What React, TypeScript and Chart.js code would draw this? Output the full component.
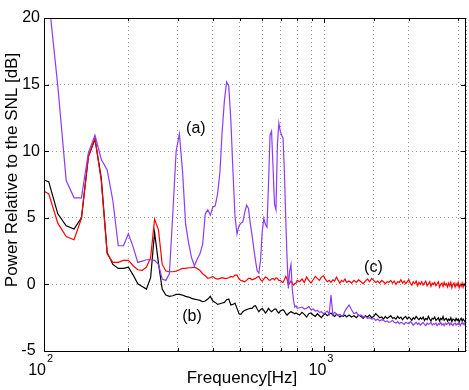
import React, { useEffect, useRef } from 'react';
import { Chart, registerables } from 'chart.js';

Chart.register(...registerables);

const FONT = '"Liberation Sans", Arial, Helvetica, sans-serif';

// Frequency grid [Hz]
const freqs = [
  96, 104, 112, 120, 128, 136, 144, 152, 160, 168, 176, 184, 192, 200, 208, 216, 224, 232, 240, 248, 256, 264, 272, 280, 288, 296, 304,
  312, 320, 328, 336, 344, 352, 360, 368, 376, 384, 392, 400, 408, 416, 424, 432, 440, 448, 456, 464,
  472, 480, 488, 496, 504, 512, 520, 528, 536, 544, 552, 560, 568, 576, 584, 592, 600, 608, 616, 624,
  632, 640, 648, 656, 664, 672, 680, 688, 696, 704, 712, 720, 728, 736, 744, 752, 760, 768, 776, 784, 792, 800,
  816, 832, 848, 864, 880, 896, 912, 928, 944, 960, 976, 992, 1008, 1024, 1040, 1056, 1072, 1088, 1104, 1120, 1136, 1152, 1168, 1184, 1200,
  1225, 1250, 1275, 1300, 1325, 1350, 1375, 1400, 1425, 1450,
  1475, 1500, 1525, 1550, 1575, 1600, 1625, 1650, 1675, 1700,
  1725, 1750, 1775, 1800, 1825, 1850, 1875, 1900, 1925, 1950,
  1975, 2000, 2025, 2050, 2075, 2100, 2125, 2150, 2175, 2200,
  2225, 2250, 2275, 2300, 2325, 2350, 2375, 2400, 2425, 2450,
  2475, 2500, 2525, 2550, 2575, 2600, 2625, 2650, 2675, 2700,
  2725, 2750, 2775, 2800, 2825, 2850, 2875, 2900, 2925, 2950,
  2975, 3000, 3025, 3050, 3075, 3100, 3125, 3150, 3175, 3200,
];

// (a) purple
const seriesA = [
  26, 21.4, 14.9, 7.8, 6.5, 6.5, 9.9, 11.2, 9.4, 8.6, 6.3, 2.9, 2.9, 3.8, 2.8, 1.65, 1.75, 1.85, 1.85, 1.8, 1.5, 0.4, 0.3, 0.8, 5.3, 10.0, 11.3,
  8.5, 4.5, 3.1, 2.0, 1.4, 1.9, 2.3, 3.0, 5.3, 5.6, 5.2, 5.8, 5.9, 6.8, 8.4, 11.5, 13.8, 15.2, 14.9, 12.3,
  8.5, 5.1, 3.8, 4.4, 4.6, 4.7, 5.4, 5.95, 5.7, 4.6, 3.7, 2.7, 1.8, 1.0, 0.85, 1.8, 3.9, 4.95, 4.5, 4.3,
  7.5, 11.2, 11.5, 8.8, 6.0, 5.6, 10.5, 12.1, 11.5, 11.2, 11.0, 8.5, 5.0, 2.0, -0.3, 1.0, 1.5, -0.3, -1.2, -1.7, -1.6, -1.8,
  -1.75, -1.7, -1.85, -1.8, -1.65, -1.9, -1.85, -2.0, -1.95, -2.1, -2.05, -2.2, -2.1, -2.0, -2.25, -0.8, -2.3, -2.1, -2.2, -2.35, -2.25, -2.4, -2.3, -2.0, -1.8,
  -1.55, -1.9, -2.2, -2.1, -2.35, -2.3, -2.45, -2.4, -2.55, -2.5,
  -2.6, -2.55, -2.7, -2.6, -2.75, -2.65, -2.7, -2.8, -2.75, -2.85,
  -2.8, -2.7, -2.85, -2.9, -2.8, -2.95, -2.85, -2.9, -3.0, -2.85,
  -2.9, -2.95, -2.8, -2.9, -3.05, -2.95, -2.85, -3.0, -2.9, -3.05,
  -2.95, -2.85, -3.0, -3.1, -2.9, -3.0, -2.95, -2.85, -3.05, -2.95,
  -3.0, -2.9, -3.1, -2.95, -3.0, -2.85, -3.05, -2.95, -3.1, -2.9,
  -3.0, -2.95, -2.85, -3.05, -2.9, -3.0, -3.1, -2.95, -2.9, -3.05,
  -2.95, -3.0, -2.9, -3.1, -2.95, -2.85, -3.0, -2.9, -3.05, -2.95,
];

// (b) black
const seriesB = [
  8.0, 7.7, 5.3, 4.4, 4.15, 5.0, 9.6, 10.9, 8.0, 2.4, 1.5, 1.2, 1.2, 1.3, 0.7, 0.05, -0.15, -0.35, 0.5, 3.9, 1.6, -0.35, -0.8, -0.9, -0.85, -0.75, -0.75,
  -0.8, -0.9, -0.95, -1.05, -1.1, -1.15, -1.2, -1.3, -1.25, -1.1, -0.9, -1.25, -1.35, -1.5, -1.45, -1.4, -1.35, -1.15, -1.1, -1.55,
  -1.5, -1.4, -1.8, -2.2, -2.25, -2.05, -1.95, -1.9, -1.85, -1.8, -1.8, -1.65, -1.6, -1.85, -2.05, -1.9, -1.8, -1.95, -2.15, -2.0,
  -1.8, -1.95, -2.05, -1.95, -1.85, -1.85, -2.05, -2.15, -2.0, -1.95, -1.9, -2.0, -2.2, -2.3, -2.2, -2.1, -2.05, -2.1, -2.15, -2.2, -2.15, -2.2,
  -2.3, -2.1, -2.25, -2.45, -2.2, -2.15, -2.3, -2.4, -2.2, -2.35, -2.5, -2.3, -2.2, -2.35, -2.25, -2.15, -2.3, -2.4, -2.25, -2.3, -2.45, -2.35, -2.4, -2.3, -2.45,
  -2.3, -2.45, -2.35, -2.5, -2.3, -2.4, -2.55, -2.35, -2.45, -2.3,
  -2.5, -2.4, -2.2, -2.35, -2.5, -2.45, -2.6, -2.4, -2.55, -2.45,
  -2.35, -2.55, -2.5, -2.6, -2.4, -2.55, -2.45, -2.65, -2.5, -2.4,
  -2.6, -2.45, -2.55, -2.7, -2.5, -2.6, -2.4, -2.55, -2.65, -2.5,
  -2.6, -2.45, -2.7, -2.55, -2.65, -2.4, -2.6, -2.75, -2.55, -2.6,
  -2.45, -2.7, -2.6, -2.5, -2.75, -2.55, -2.65, -2.4, -2.7, -2.6,
  -2.55, -2.75, -2.6, -2.7, -2.5, -2.8, -2.6, -2.65, -2.75, -2.55,
  -2.7, -2.6, -2.8, -2.65, -2.55, -2.75, -2.6, -2.7, -2.8, -2.65,
];

// (c) red
const seriesC = [
  7.2, 6.8, 4.6, 3.6, 3.35, 4.95, 9.6, 11.0, 7.8, 2.3, 1.65, 1.65, 1.8, 1.8, 1.4, 1.1, 1.05, 1.3, 2.0, 4.9, 4.1, 1.5, 1.0, 0.95, 0.95, 1.0, 1.1,
  1.2, 1.2, 1.25, 1.25, 1.3, 1.2, 1.05, 0.8, 0.65, 0.45, 0.5, 0.6, 0.45, 0.4, 0.45, 0.5, 0.45, 0.45, 0.5, 0.6,
  0.55, 0.7, 0.7, 0.4, 0.3, 0.25, 0.2, 0.3, 0.45, 0.45, 0.35, 0.4, 0.45, 0.55, 0.6, 0.35, 0.25, 0.4, 0.55, 0.5,
  0.35, 0.3, 0.4, 0.45, 0.35, 0.5, 0.45, 0.3, 0.3, 0.2, 0.15, 0.35, 0.6, 0.4, -0.05, 0.1, 0.25, 0.1, -0.05, 0.05, 0.1, 0.3,
  0.2, 0.4, 0.15, 0.55, 0.3, 0.1, 0.35, 0.6, 0.45, 0.3, 0.55, 0.65, 0.4, 0.2, 0.3, 0.15, 0.35, 0.25, 0.55, 0.3, 0.1, 0.3, 0.2, 0.4, 0.15,
  0.25, 0.1, 0.3, 0.15, 0.35, 0.2, 0.05, 0.25, 0.4, 0.2,
  0.45, 0.3, 0.15, 0.25, 0.1, 0.3, 0.2, 0.05, 0.2, 0.15,
  0.3, 0.1, 0.25, 0.0, 0.2, 0.15, 0.35, 0.1, 0.25, 0.05,
  0.2, 0.35, 0.1, -0.05, 0.2, 0.05, 0.25, -0.1, 0.15, 0.0,
  0.2, -0.05, 0.1, 0.25, -0.1, 0.05, 0.2, -0.15, 0.1, 0.0,
  0.15, -0.1, 0.05, 0.2, -0.2, 0.0, 0.1, -0.15, 0.15, -0.05,
  0.05, -0.2, 0.1, -0.1, 0.15, -0.25, 0.0, 0.1, -0.2, 0.05,
  -0.1, 0.15, -0.25, 0.0, -0.15, 0.1, -0.2, 0.05, -0.1, 0.1,
];

const seriesColors = ['#8a3cf5', '#ff0000', '#000000'];

const xMin = 100;
const xMax = 3200;
const yMin = -5;
const yMax = 20;
const yTickValues = [-5, 0, 5, 10, 15, 20];
const yTickLabels = ['-5 ', '0 ', '5 ', '10', '15', '20'];
const xTickValues = [100, 1000];
const xTickBases = ['10', '10'];
const xTickExponents = ['2', '3'];

const annotationLabels = ['(a)', '(b)', '(c)'];
const annotationFreqs = [348, 337, 1496];
const annotationValues = [11.7, -2.4, 1.25];

const xTitle = 'Frequency[Hz]';
const yTitle = 'Power Relative to the SNL [dB]';

const decorPlugin = {
  id: 'decor',
  afterDraw(chart: any) {
    const { ctx, chartArea: a, scales } = chart;
    const xs = scales.x;
    const ys = scales.y;
    ctx.save();
    ctx.strokeStyle = '#000';
    ctx.lineWidth = 1;
    ctx.setLineDash([]);
    ctx.beginPath();
    yTickValues.forEach((v) => {
      const py = Math.round(ys.getPixelForValue(v)) + 0.5;
      ctx.moveTo(a.left, py);
      ctx.lineTo(a.left + 5, py);
      ctx.moveTo(a.right, py);
      ctx.lineTo(a.right - 5, py);
    });
    xs.ticks.forEach((t: any) => {
      if (t.value <= xMin || t.value >= xMax) return;
      const px = Math.round(xs.getPixelForValue(t.value)) + 0.5;
      const len = xTickValues.includes(t.value) ? 5 : 3;
      ctx.moveTo(px, a.bottom);
      ctx.lineTo(px, a.bottom - len);
      ctx.moveTo(px, a.top);
      ctx.lineTo(px, a.top + len);
    });
    ctx.stroke();
    ctx.strokeRect(
      Math.round(a.left) + 0.5,
      Math.round(a.top) + 0.5,
      Math.round(a.right - a.left) - 1,
      Math.round(a.bottom - a.top)
    );

    ctx.fillStyle = '#000';
    ctx.textBaseline = 'alphabetic';
    xTickValues.forEach((v, i) => {
      const px = xs.getPixelForValue(v);
      ctx.font = `16px ${FONT}`;
      ctx.textAlign = 'right';
      ctx.fillText(xTickBases[i], px + 2, a.bottom + 24);
      ctx.font = `11px ${FONT}`;
      ctx.textAlign = 'left';
      ctx.fillText(xTickExponents[i], px + 3, a.bottom + 11);
    });

    ctx.font = `16px ${FONT}`;
    ctx.textAlign = 'center';
    ctx.textBaseline = 'middle';
    annotationLabels.forEach((lab, i) => {
      ctx.fillText(lab, xs.getPixelForValue(annotationFreqs[i]), ys.getPixelForValue(annotationValues[i]));
    });

    ctx.font = `17px ${FONT}`;
    ctx.textAlign = 'center';
    ctx.textBaseline = 'alphabetic';
    ctx.fillText(xTitle, 242, a.bottom + 32);
    ctx.translate(16.5, 170);
    ctx.rotate(-Math.PI / 2);
    ctx.fillText(yTitle, 0, 0);
    ctx.restore();
  },
};

export default function App() {
  const canvasRef = useRef<HTMLCanvasElement | null>(null);

  useEffect(() => {
    if (!canvasRef.current) return;
    const toPoints = (vals: number[]) => freqs.map((f, i) => ({ x: f, y: vals[i] }));
    const gridColor = '#9a9a9a';
    const chart = new Chart(canvasRef.current, {
      type: 'line',
      data: {
        datasets: [
          { label: '(a)', data: toPoints(seriesA), borderColor: seriesColors[0], borderWidth: 1.2, pointRadius: 0, tension: 0, fill: false },
          { label: '(c)', data: toPoints(seriesC), borderColor: seriesColors[1], borderWidth: 1.2, pointRadius: 0, tension: 0, fill: false },
          { label: '(b)', data: toPoints(seriesB), borderColor: seriesColors[2], borderWidth: 1.2, pointRadius: 0, tension: 0, fill: false },
        ],
      },
      options: {
        responsive: false,
        animation: false,
        devicePixelRatio: 1,
        layout: { padding: { left: 0, right: 3, top: 18, bottom: 0 } },
        plugins: { legend: { display: false }, tooltip: { enabled: false }, title: { display: false } },
        events: [],
        scales: {
          x: {
            type: 'logarithmic',
            min: xMin,
            max: xMax,
            ticks: { display: false },
            grid: { color: gridColor, lineWidth: 1, drawTicks: false },
            border: { display: false, dash: [1, 3] },
            afterFit: (s: any) => { s.height = 39; },
          },
          y: {
            type: 'linear',
            min: yMin,
            max: yMax,
            ticks: {
              stepSize: 5,
              padding: 4,
              color: '#000',
              font: { size: 16, family: FONT },
              callback: (v: any) => {
                const idx = yTickValues.indexOf(Number(v));
                return idx >= 0 ? yTickLabels[idx] : '';
              },
            },
            grid: { color: gridColor, lineWidth: 1, drawTicks: false },
            border: { display: false, dash: [1, 3] },
            afterFit: (s: any) => { s.width = 44; },
          },
        },
      } as any,
      plugins: [decorPlugin],
    });
    return () => chart.destroy();
  }, []);

  return (
    <div style={{ position: 'absolute', left: 0, top: 0, width: 469, height: 390, background: '#fff' }}>
      <canvas ref={canvasRef} width={469} height={390} style={{ display: 'block' }} />
    </div>
  );
}
